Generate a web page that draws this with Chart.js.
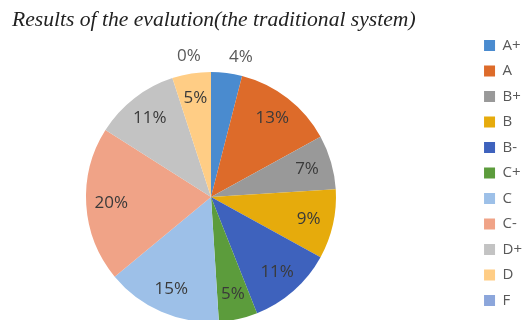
<!DOCTYPE html>
<html>
<head>
<meta charset="utf-8">
<script src="https://cdn.jsdelivr.net/npm/chart.js@4.4.0/dist/chart.umd.min.js"></script>
<style>
  html, body { margin: 0; padding: 0; background: #fff; overflow: hidden; }
  canvas { display: block; }
</style>
</head>
<body>
<canvas id="myChart" width="532" height="320"></canvas>
<script>
var grades = ["A+", "A", "B+", "B", "B-", "C+", "C", "C-", "D+", "D", "F"];
var percents = [4, 13, 7, 9, 11, 5, 15, 20, 11, 5, 0];
var sliceColors = ["#4a8bcf", "#dd6b2a", "#999999", "#e6ab0c", "#3e62bd", "#5c9c3c",
                   "#9dc0e8", "#f0a387", "#c3c3c3", "#ffcd85", "#8ca6db"];

// pie box: center (211,197), radius 125 -> runs a little past the bottom edge
var pieBox = { left: 86, top: 72, size: 250 };

var pieArea = {
  id: "pieArea",
  afterLayout: (chart) => {
    var a = chart.chartArea;
    a.left = pieBox.left;
    a.top = pieBox.top;
    a.right = pieBox.left + pieBox.size;
    a.bottom = pieBox.top + pieBox.size;
    a.width = pieBox.size;
    a.height = pieBox.size;
  }
};

// percent labels, small slices go outside above the pie
var pctLabels = {
  id: "pctLabels",
  afterDatasetsDraw: (chart) => {
    var ctx = chart.ctx;
    var meta = chart.getDatasetMeta(0);
    var inside = [];
    var outside = [];
    meta.data.forEach((arc, i) => {
      var p = arc.getProps(["x", "y", "startAngle", "endAngle", "outerRadius"], true);
      var mid = (p.startAngle + p.endAngle) / 2;
      var v = percents[i];
      var r = v < 5 ? p.outerRadius * 1.13 : p.outerRadius * 0.8;
      var item = { text: v + "%", x: p.x + Math.cos(mid) * r, y: p.y + Math.sin(mid) * r };
      (v < 5 ? outside : inside).push(item);
    });
    // spread outside labels sideways so they don't overlap
    if (outside.length > 1) {
      outside.sort((a, b) => a.x - b.x);
      var gap = 52;
      var mean = outside.reduce((s, o) => s + o.x, 0) / outside.length - 5;
      var start = mean - gap * (outside.length - 1) / 2;
      outside.forEach((o, k) => { o.x = start + gap * k; });
    }
    ctx.save();
    ctx.font = "17px 'Open Sans'";
    ctx.textAlign = "center";
    ctx.textBaseline = "middle";
    ctx.fillStyle = "#3a3a3a";
    inside.forEach((o) => ctx.fillText(o.text, o.x, o.y));
    ctx.fillStyle = "#595959";
    outside.forEach((o) => ctx.fillText(o.text, o.x, o.y));
    ctx.restore();
  }
};

var canvaPie = document.getElementById("myChart").getContext("2d");
var chartPie = new Chart(canvaPie, {
  type: "pie",
  data: {
    labels: grades,
    datasets: [
      {
        data: percents,
        backgroundColor: sliceColors,
        borderWidth: 0,
      },
    ],
  },
  options: {
    responsive: false,
    animation: false,
    layout: {
      padding: { left: 12, right: 0, top: 0, bottom: 0 },
    },
    plugins: {
      title: {
        display: true,
        text: "Results of the evalution(the traditional system)",
        align: "start",
        color: "#222",
        font: { family: "'Liberation Serif'", size: 21.6, style: "italic", weight: "normal", lineHeight: 1 },
        padding: { top: 9.5, bottom: 0 },
      },
      legend: {
        position: "right",
        align: "start",
        // empty title only pushes the items down
        title: {
          display: true,
          text: " ",
          font: { size: 1, lineHeight: 1 },
          padding: { top: 26.5, bottom: 0 },
        },
        labels: {
          boxWidth: 11,
          boxHeight: 11,
          padding: 10.5,
          color: "#595959",
          font: { family: "'Open Sans'", size: 15 },
        },
      },
      tooltip: {
        enabled: false,
      },
    },
  },
  plugins: [pieArea, pctLabels],
});
</script>
</body>
</html>
